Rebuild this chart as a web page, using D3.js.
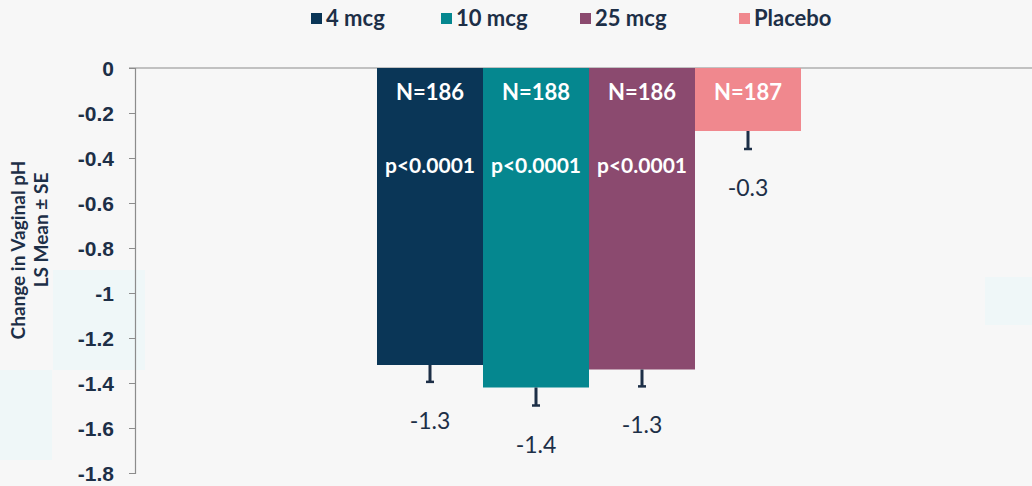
<!DOCTYPE html>
<html>
<head>
<meta charset="utf-8">
<script src="https://cdn.jsdelivr.net/npm/d3@7"></script>
<style>
  html, body { margin: 0; padding: 0; background: #f7f7f7; }
  svg { display: block; font-family: Lato, "Open Sans", sans-serif; }
</style>
</head>
<body>
<svg id="chart" width="1032" height="486"></svg>
<script>
// Treatment groups and their LS mean change in vaginal pH (± SE)
const groups = ["4 mcg", "10 mcg", "25 mcg", "Placebo"];
const means = [-1.32, -1.42, -1.34, -0.28];
const errors = [0.075, 0.08, 0.075, 0.08];
const counts = ["N=186", "N=188", "N=186", "N=187"];
const pValues = ["p<0.0001", "p<0.0001", "p<0.0001", ""];
const colors = ["#0a3657", "#05878f", "#8b4a6f", "#f0888e"];
const yTicks = [0, -0.2, -0.4, -0.6, -0.8, -1, -1.2, -1.4, -1.6, -1.8];

const svg = d3.select("#chart");
const ink = "#1d2f47";

// faint decorative tiles in the backdrop
const tiles = [
  [53, 270, 92, 100], [0, 370, 52, 90], [985, 277, 47, 48]
];
svg.selectAll("rect.tile").data(tiles).join("rect")
  .attr("class", "tile")
  .attr("x", d => d[0]).attr("y", d => d[1])
  .attr("width", d => d[2]).attr("height", d => d[3])
  .attr("fill", "#eaf7f8").attr("opacity", 0.6);

const x = d3.scaleBand().domain(groups).range([377, 801]).padding(0);
const y = d3.scaleLinear().domain([0, -1.8]).range([68, 473]);

// zero baseline across the plot
svg.append("line")
  .attr("x1", 129).attr("x2", 1032)
  .attr("y1", y(0)).attr("y2", y(0))
  .attr("stroke", "#8c8c8c").attr("stroke-width", 1.2);

// y axis
const yAxis = d3.axisLeft(y).tickValues(yTicks).tickSize(6).tickPadding(15)
  .tickFormat(d => String(d));
const gy = svg.append("g").attr("transform", "translate(135,0)").call(yAxis);
gy.select(".domain").attr("stroke", "#8c8c8c").attr("stroke-width", 1.2);
gy.selectAll(".tick line").attr("stroke", "#8c8c8c");
gy.selectAll(".tick text")
  .attr("fill", ink).attr("font-size", 21).attr("font-weight", "bold")
  .attr("dy", "0.35em");

// bars
svg.selectAll("rect.bar").data(groups).join("rect")
  .attr("class", "bar")
  .attr("x", d => x(d))
  .attr("y", y(0))
  .attr("width", x.bandwidth())
  .attr("height", (d, i) => y(means[i]) - y(0))
  .attr("fill", (d, i) => colors[i]);

// SE whiskers (downward)
const cx = d => x(d) + x.bandwidth() / 2;
svg.selectAll("line.err").data(groups).join("line")
  .attr("class", "err")
  .attr("x1", cx).attr("x2", cx)
  .attr("y1", (d, i) => y(means[i]))
  .attr("y2", (d, i) => y(means[i] - errors[i]))
  .attr("stroke", ink).attr("stroke-width", 3);
svg.selectAll("line.cap").data(groups).join("line")
  .attr("class", "cap")
  .attr("x1", d => cx(d) - 4).attr("x2", d => cx(d) + 4)
  .attr("y1", (d, i) => y(means[i] - errors[i]))
  .attr("y2", (d, i) => y(means[i] - errors[i]))
  .attr("stroke", ink).attr("stroke-width", 2.5);

// value labels below whiskers
svg.selectAll("text.val").data(groups).join("text")
  .attr("class", "val")
  .attr("x", cx)
  .attr("y", (d, i) => y(means[i] - errors[i]) + 47)
  .attr("text-anchor", "middle")
  .attr("font-size", 23).attr("fill", ink)
  .text((d, i) => means[i].toFixed(1));

// sample sizes inside bars
svg.selectAll("text.n").data(groups).join("text")
  .attr("class", "n")
  .attr("x", cx).attr("y", 100)
  .attr("text-anchor", "middle")
  .attr("font-size", 22).attr("font-weight", "bold").attr("fill", "#ffffff")
  .text((d, i) => counts[i]);

// p-values inside bars
svg.selectAll("text.p").data(groups).join("text")
  .attr("class", "p")
  .attr("x", cx).attr("y", 173)
  .attr("text-anchor", "middle")
  .attr("font-size", 21).attr("font-weight", "bold").attr("fill", "#ffffff")
  .text((d, i) => pValues[i]);

// y axis title
svg.append("text")
  .attr("transform", "translate(25,250) rotate(-90)")
  .attr("text-anchor", "middle")
  .attr("font-size", 19).attr("font-weight", "bold").attr("fill", ink)
  .text("Change in Vaginal pH");
svg.append("text")
  .attr("transform", "translate(48,230) rotate(-90)")
  .attr("text-anchor", "middle")
  .attr("font-size", 19).attr("font-weight", "bold").attr("fill", ink)
  .text("LS Mean ± SE");

// legend
const legendX = [311, 441, 580, 739];
const lg = svg.selectAll("g.leg").data(groups).join("g")
  .attr("class", "leg")
  .attr("transform", (d, i) => `translate(${legendX[i]},13)`);
lg.append("rect").attr("width", 11).attr("height", 11)
  .attr("fill", (d, i) => colors[i]);
lg.append("text").attr("x", 15).attr("y", 13)
  .attr("font-size", 22).attr("font-weight", "bold").attr("fill", ink)
  .text(d => d);
</script>
</body>
</html>
